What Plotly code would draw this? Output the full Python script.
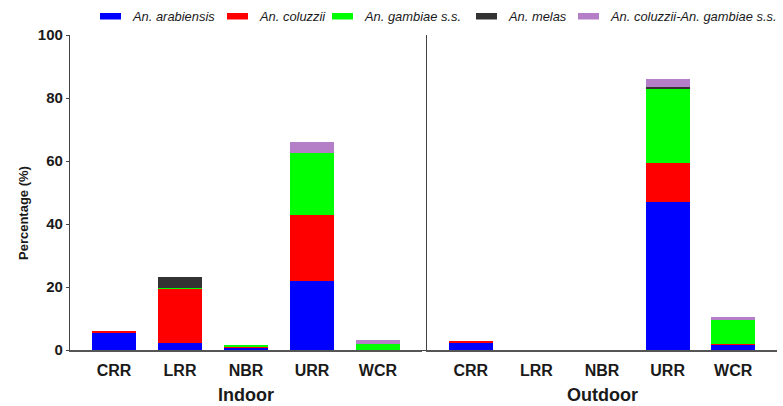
import plotly.graph_objects as go

categories = ["CRR", "LRR", "NBR", "URR", "WCR"]
species = ["An. arabiensis", "An. coluzzii", "An. gambiae s.s.", "An. melas", "An. coluzzii-An. gambiae s.s."]
colors = ["#0000FF", "#FF0000", "#00FF00", "#333333", "#B57FC8"]

indoor_arabiensis = [5.4, 2.2, 0.9, 22.0, 0.0]
indoor_coluzzii = [0.6, 17.2, 0.1, 20.9, 0.0]
indoor_gambiae = [0.0, 0.3, 0.5, 19.5, 1.8]
indoor_melas = [0.0, 3.5, 0.0, 0.0, 0.0]
indoor_hybrid = [0.0, 0.0, 0.0, 3.7, 1.4]

outdoor_arabiensis = [2.4, 0.0, 0.0, 47.1, 1.8]
outdoor_coluzzii = [0.3, 0.0, 0.0, 12.2, 0.2]
outdoor_gambiae = [0.0, 0.0, 0.0, 23.8, 7.5]
outdoor_melas = [0.0, 0.0, 0.0, 0.3, 0.0]
outdoor_hybrid = [0.0, 0.0, 0.0, 2.6, 1.1]

panel_titles = ["Indoor", "Outdoor"]
y_title = "Percentage (%)"
y_ticks = [0, 20, 40, 60, 80, 100]

indoor = [indoor_arabiensis, indoor_coluzzii, indoor_gambiae, indoor_melas, indoor_hybrid]
outdoor = [outdoor_arabiensis, outdoor_coluzzii, outdoor_gambiae, outdoor_melas, outdoor_hybrid]

W, H = 783, 406
FONT = "Liberation Sans, Arial, sans-serif"

fig = go.Figure()
for i, name in enumerate(species):
    fig.add_trace(go.Bar(x=categories, y=indoor[i], name=name, marker_color=colors[i],
                         marker_line_width=0, width=0.667, xaxis="x", yaxis="y",
                         showlegend=False))
for i, name in enumerate(species):
    fig.add_trace(go.Bar(x=categories, y=outdoor[i], name=name, marker_color=colors[i],
                         marker_line_width=0, width=0.667, xaxis="x2", yaxis="y2",
                         showlegend=False))

tickfont_x = dict(family=FONT, size=16, color="#1a1a1a", weight="bold")
tickfont_y = dict(family=FONT, size=15, color="#1a1a1a", weight="bold")
common_x = dict(type="category", range=[-0.667, 4.667], showline=True, linecolor="#555",
                linewidth=2, ticks="", tickfont=tickfont_x, showgrid=False, zeroline=False,
                automargin=False, ticklabelstandoff=5)
ydom = [56 / H, 1 - 35 / H]

fig.update_layout(
    width=W, height=H,
    barmode="stack",
    plot_bgcolor="white", paper_bgcolor="white",
    margin=dict(l=0, r=0, t=0, b=0, pad=0, autoexpand=False),
    showlegend=False,
    xaxis=dict(common_x, domain=[70 / W, 422 / W], anchor="y"),
    xaxis2=dict(common_x, domain=[427 / W, 777 / W], anchor="y2"),
    yaxis=dict(range=[0, 100], tickvals=y_ticks, showline=True, domain=ydom,
               linecolor="#444", linewidth=1.2, ticks="outside", ticklen=3, tickcolor="#444",
               tickfont=tickfont_y, showgrid=False, zeroline=False, anchor="x", automargin=False),
    yaxis2=dict(range=[0, 100], tickvals=[0], showline=True, linecolor="#444", linewidth=1.2,
                domain=ydom, showticklabels=False, ticks="outside", ticklen=4, tickcolor="#444",
                showgrid=False, zeroline=False, anchor="x2", automargin=False),
)

# axis titles
title_font = dict(family=FONT, size=18, color="#1a1a1a", weight="bold")
for cx, txt in zip([(70 + 422) / 2, (427 + 777) / 2], panel_titles):
    fig.add_annotation(x=cx / W, y=1 - 395 / H, xref="paper", yref="paper", text=txt,
                       showarrow=False, font=title_font, xanchor="center", yanchor="middle")
fig.add_annotation(x=23 / W, y=1 - 213 / H, xref="paper", yref="paper", text=y_title,
                   textangle=-90, showarrow=False, xanchor="center", yanchor="middle",
                   font=dict(family=FONT, size=13, color="#1a1a1a", weight="bold"))

# legend (drawn manually to match compact layout)
swatch_x = [100, 227, 332, 476, 578]
for sx, name, col in zip(swatch_x, species, colors):
    fig.add_shape(type="rect", xref="paper", yref="paper",
                  x0=sx / W, x1=(sx + 21) / W, y0=1 - 19.5 / H, y1=1 - 13 / H,
                  fillcolor=col, line_width=0)
    fig.add_annotation(x=(sx + 30) / W, y=1 - 16.5 / H, xref="paper", yref="paper",
                       text="<i>" + name + "</i>", showarrow=False, xanchor="left",
                       yanchor="middle", font=dict(family=FONT, size=12.9, color="#1a1a1a"))

fig.write_html("out.html", config={"displayModeBar": False},
               post_script="document.body.style.margin='0';document.body.style.overflow='hidden';")
